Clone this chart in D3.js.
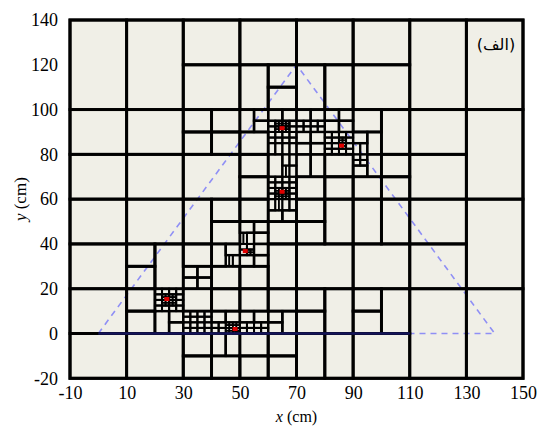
<!DOCTYPE html>
<html>
<head>
<meta charset="utf-8">
<script src="https://cdn.jsdelivr.net/npm/d3@7"></script>
<style>
html,body{margin:0;padding:0;background:#fff;}
svg{display:block;}
text{font-family:"Liberation Serif","Times New Roman",serif;fill:#000;}
</style>
</head>
<body>
<svg id="chart" width="540" height="426"></svg>
<script>
// ---------- data ----------
const xTicks = [-10, 10, 30, 50, 70, 90, 110, 130, 150];
const yTicks = [-20, 0, 20, 40, 60, 80, 100, 120, 140];
const xDomain = [-10, 150];
const yDomain = [-20, 140];

// mesh cells [x0, y0, x1, y1] (cm)
const cells = [
  // y 100-140
  [-10,100,10,140],[10,100,30,140],
  [30,120,50,140],[50,120,70,140],[70,120,90,140],[90,120,110,140],
  [30,100,50,120],[50,100,60,120],[60,110,70,120],[60,100,70,110],
  [70,100,80,120],[80,100,90,120],[90,100,110,120],
  [110,100,130,140],[130,100,150,140],
  // y 80-100
  [-10,80,10,100],[10,80,30,100],
  [30,90,40,100],[40,90,50,100],[30,80,40,90],[40,80,50,90],
  [50,90,55,100],[55,95,60,100],[55,90,60,95],[50,80,60,90],
  [60,95,65,100],[65,95,70,100],
  [70,95,75,100],[75,95,80,100],
  [70,85,75,90],[75,85,80,90],[70,80,75,85],[75,80,80,85],
  [80,95,85,100],[85,95,90,100],[80,90,85,95],[85,90,90,95],
  [90,85,95,90],[90,80,92.5,85],[92.5,80,95,85],[95,80,100,90],
  [90,90,100,100],[100,80,110,100],
  [110,80,130,100],[130,60,150,100],
  // y 60-80
  [-10,60,10,80],[10,60,30,80],[30,60,50,80],
  [50,70,60,80],[50,60,60,70],
  [60,70,65,80],[65,75,67.5,80],[67.5,75,70,80],[65,70,66.25,75],[66.25,70,67.5,75],[67.5,70,70,75],
  [70,70,75,80],[75,70,80,80],[80,70,90,80],
  [90,70,95,75],[95,70,100,80],[100,70,110,80],
  [70,60,80,70],[80,60,90,70],[90,60,100,70],[100,60,110,70],
  [110,60,130,80],
  // y 40-60
  [-10,40,10,60],[10,40,30,60],
  [30,40,40,60],[40,50,50,60],[40,40,50,50],
  [50,50,60,60],
  [60,55,62.5,60],[62.5,55,63.75,60],[63.75,55,65,60],[65,55,67.5,60],[67.5,55,70,60],
  [60,50,65,55],[65,50,70,55],
  [50,45,55,50],[55,45,60,50],
  [50,40,51.25,45],[51.25,40,52.5,45],[52.5,40,55,45],[55,40,60,45],
  [60,40,70,50],
  [70,50,80,60],[70,40,80,50],[80,40,90,60],[90,40,100,60],[100,40,110,60],
  [110,40,130,60],[130,20,150,60],
  // y 20-40
  [-10,20,10,40],[10,30,20,40],[10,20,20,30],[20,20,30,40],
  [30,30,40,40],[30,25,35,30],[35,25,40,30],[30,20,35,25],[35,20,40,25],
  [40,30,45,40],[45,35,50,40],[45,30,46.25,35],[46.25,30,47.5,35],[47.5,30,50,35],[40,20,50,30],
  [55,35,60,40],[50,30,55,35],[55,30,60,35],[50,20,60,30],
  [60,20,70,40],[70,20,90,40],[90,20,110,40],[110,20,130,40],
  // y 0-20
  [-10,0,10,20],[10,10,20,20],[10,0,20,10],
  [20,0,25,10],[25,5,30,10],[25,0,30,5],
  [30,10,40,20],[40,10,50,20],
  [40,5,45,10],[45,5,50,10],[50,5,55,10],[55,5,60,10],[60,5,65,10],[60,0,65,5],[65,0,70,10],
  [50,10,60,20],[60,10,70,20],
  [70,10,80,20],[70,0,80,10],[80,0,90,20],[90,10,100,20],[90,0,100,10],[100,0,110,20],
  [110,-20,130,20],[130,-20,150,20],
  // y -20-0
  [-10,-20,10,0],[10,-20,30,0],
  [30,-10,40,0],[30,-20,40,-10],[40,-10,45,0],[45,-10,50,0],[40,-20,50,-10],
  [50,-10,60,0],[50,-20,60,-10],[60,-10,70,0],[60,-20,70,-10],
  [70,-20,80,0],[80,-20,90,0],[90,-20,110,0]
];

// refined blocks [x0, y0, x1, y1, nx, ny] : block split into nx by ny cells
const refinedBlocks = [
  [60,85,70,95,4,4],[70,90,80,95,4,2],[60,80,70,85,4,1],
  [80,80,90,90,4,4],[90,75,95,80,2,2],
  [60,60,70,70,4,4],
  [50,35,55,40,2,2],
  [20,10,30,20,4,4],
  [30,0,40,10,4,4],[40,0,45,5,2,2],[45,0,50,5,4,4],[50,0,60,5,4,2],
  // finest level around the sources
  [62.5,90,67.5,95,4,4],[85,82.5,87.5,87.5,2,4],[62.5,60,67.5,65,4,4],
  [52.5,35,55,37.5,2,2],[22.5,12.5,27.5,17.5,4,4],[47.5,0,50,2.5,2,2]
];

// source points (red)
const sources = [[64.9,91.7],[85.9,83.9],[64.9,63.3],[51.9,36.8],[24.2,15.4],[48.3,2.0]];
// dashed triangle
const triangle = [[0,0],[70,120],[140,0]];
// dark base segment along y = 0
const baseSegment = [[0,0],[110,0]];

const cornerLabel = "(الف)";

// ---------- drawing ----------
const svg = d3.select("#chart");
const x = d3.scaleLinear().domain(xDomain).range([70, 523]);
const y = d3.scaleLinear().domain(yDomain).range([378.3, 20]);

svg.append("rect")
  .attr("x", x(xDomain[0])).attr("y", y(yDomain[1]))
  .attr("width", x(xDomain[1]) - x(xDomain[0]))
  .attr("height", y(yDomain[0]) - y(yDomain[1]))
  .attr("fill", "#f0efe7");

// dashed triangle (under the mesh)
svg.append("path")
  .attr("d", d3.line().x(d => x(d[0])).y(d => y(d[1]))(triangle.concat([triangle[0]])))
  .attr("fill", "none")
  .attr("stroke", "#8f8ff5")
  .attr("stroke-width", 1.6)
  .attr("stroke-dasharray", "6,5");

// expand refined blocks into cells
const allCells = cells.map(c => c.slice());
refinedBlocks.forEach(b => {
  const [x0, y0, x1, y1, nx, ny] = b;
  const dx = (x1 - x0) / nx, dy = (y1 - y0) / ny;
  for (let i = 0; i < nx; i++)
    for (let j = 0; j < ny; j++)
      allCells.push([x0 + i * dx, y0 + j * dy, x0 + (i + 1) * dx, y0 + (j + 1) * dy]);
});

function sw(c) {
  const s = Math.min(c[2] - c[0], c[3] - c[1]);
  if (s >= 10) return 2.9;
  if (s >= 5) return 2.4;
  if (s >= 2.5) return 2.0;
  return 1.6;
}

allCells.sort((a, b) => (b[2] - b[0]) * (b[3] - b[1]) - (a[2] - a[0]) * (a[3] - a[1]));

svg.append("g").selectAll("rect").data(allCells).join("rect")
  .attr("x", d => x(d[0]))
  .attr("y", d => y(d[3]))
  .attr("width", d => x(d[2]) - x(d[0]))
  .attr("height", d => y(d[1]) - y(d[3]))
  .attr("fill", "none")
  .attr("stroke", "#000")
  .attr("stroke-width", d => sw(d));

// dark base segment
svg.append("path")
  .attr("d", d3.line().x(d => x(d[0])).y(d => y(d[1]))(baseSegment))
  .attr("stroke", "#14145a")
  .attr("stroke-width", 2.4)
  .attr("fill", "none");

// sources
svg.append("g").selectAll("rect").data(sources).join("rect")
  .attr("x", d => x(d[0]) - 2.5)
  .attr("y", d => y(d[1]) - 2)
  .attr("width", 5).attr("height", 4)
  .attr("fill", "#e00000");

// frame
svg.append("rect")
  .attr("x", x(xDomain[0])).attr("y", y(yDomain[1]))
  .attr("width", x(xDomain[1]) - x(xDomain[0]))
  .attr("height", y(yDomain[0]) - y(yDomain[1]))
  .attr("fill", "none").attr("stroke", "#000").attr("stroke-width", 3);

// axes
const xAxis = svg.append("g")
  .attr("transform", `translate(0,${y(yDomain[0])})`)
  .call(d3.axisBottom(x).tickValues(xTicks).tickSize(0).tickPadding(8).tickFormat(d => String(d)));
xAxis.select(".domain").remove();
xAxis.selectAll("text").attr("font-size", 18).attr("font-family", "Liberation Serif").attr("fill", "#000");

const yAxis = svg.append("g")
  .attr("transform", `translate(${x(xDomain[0])},0)`)
  .call(d3.axisLeft(y).tickValues(yTicks).tickSize(0).tickPadding(12).tickFormat(d => String(d)));
yAxis.select(".domain").remove();
yAxis.selectAll("text").attr("font-size", 18).attr("font-family", "Liberation Serif").attr("fill", "#000");

// axis titles
const xt = svg.append("text")
  .attr("x", x(70)).attr("y", 422)
  .attr("text-anchor", "middle").attr("font-size", 16);
xt.append("tspan").attr("font-style", "italic").text("x");
xt.append("tspan").text(" (cm)");

const yt = svg.append("text")
  .attr("transform", `translate(26,${y(60)}) rotate(-90)`)
  .attr("text-anchor", "middle").attr("font-size", 17);
yt.append("tspan").attr("font-style", "italic").text("y");
yt.append("tspan").text(" (cm)");

// corner label
svg.append("text")
  .attr("x", 496).attr("y", 50)
  .attr("text-anchor", "middle")
  .attr("font-size", 16)
  .attr("style", "font-family:'DejaVu Sans','Noto Sans',serif")
  .text(cornerLabel);
</script>
</body>
</html>
